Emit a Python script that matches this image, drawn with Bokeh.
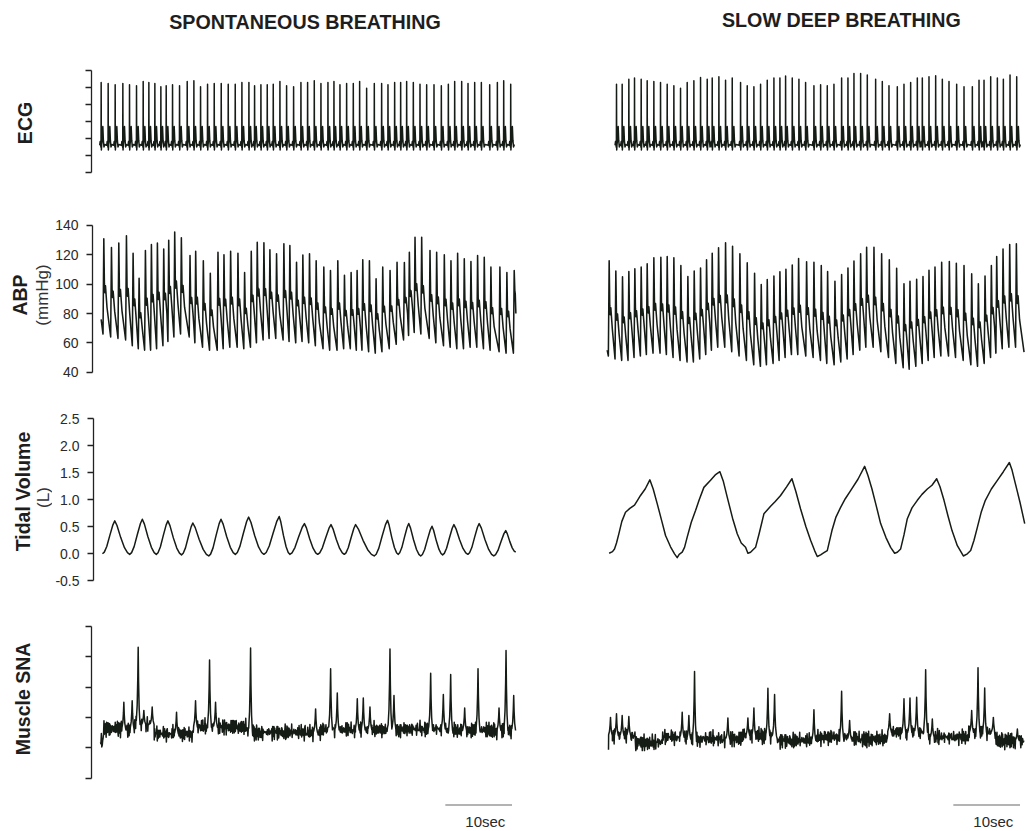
import numpy as np
from bokeh.plotting import figure
from bokeh.layouts import column, row
from bokeh.models import Range1d, FixedTicker, PrintfTickFormatter
from bokeh.embed import file_html
from bokeh.resources import INLINE
from bokeh.core.properties import value

FONT = "Liberation Sans"
INK = "#151b15"
TXT = "#1e1e1e"

# ------------------------------------------------------------------ data
titles = ["SPONTANEOUS BREATHING", "SLOW DEEP BREATHING"]
row_labels = ["ECG", "ABP", "Tidal Volume", "Muscle SNA"]
row_units = ["", "(mmHg)", "(L)", ""]

ecg_ticks = [0, 1, 2, 3, 4, 5, 6]
abp_ticks = [40, 60, 80, 100, 120, 140]
tv_ticks = [-0.5, 0.0, 0.5, 1.0, 1.5, 2.0, 2.5]
sna_ticks = [0, 1, 2, 3, 4, 5]

scale_bar_start = 51.7   # s
scale_bar_len = 10.0     # s
scale_label = "10sec"

# ECG: R-peak times (s) and R-peak tops (arbitrary units)
ecg_spont_t = [0.1, 1.15, 2.2, 3.35, 4.35, 5.4, 6.4, 7.25, 8.15, 9.05, 9.85, 10.8, 11.85, 13.0,
               14.0, 15.0, 16.05, 17.05, 18.1, 19.15, 20.2, 21.2, 22.25, 23.1, 24.05, 25.0, 25.9,
               26.9, 27.9, 28.95, 30.05, 31.05, 32.05, 33.05, 34.1, 35.0, 35.9, 36.9, 37.9, 38.85,
               39.9, 41.05, 42.15, 43.1, 44.1, 45.0, 45.9, 46.9, 47.9, 48.9, 50.0, 51.1, 52.15,
               53.1, 54.15, 55.1, 56.1, 57.1, 58.35, 59.5, 60.45, 61.5]
ecg_spont_r = [5.31, 5.25, 5.18, 5.25, 5.18, 5.12, 5.37, 5.31, 5.25, 5.06, 5.12, 5.18, 5.12, 5.37,
               5.41, 5.06, 5.21, 5.25, 5.25, 5.21, 5.21, 5.31, 5.31, 5.12, 5.18, 5.18, 5.21, 5.37,
               5.12, 5.06, 5.31, 5.31, 5.41, 5.25, 5.31, 5.37, 5.18, 5.25, 5.25, 5.37, 4.98, 5.25,
               5.25, 5.18, 5.31, 5.31, 5.37, 5.31, 5.21, 5.18, 5.18, 5.12, 5.21, 5.37, 5.37, 5.25,
               5.31, 5.31, 5.18, 5.31, 5.41, 5.21]
ecg_slow_t = [1.2, 2.05, 3.05, 3.9, 4.9, 5.8, 6.8, 7.8, 8.8, 9.8, 10.8, 11.8, 12.8, 13.8, 14.8,
              15.55, 16.55, 17.55, 18.55, 19.8, 20.8, 21.8, 22.8, 23.8, 24.8, 25.7, 26.55, 27.55,
              28.55, 29.55, 30.8, 31.8, 32.8, 33.8, 34.95, 35.9, 36.8, 37.8, 38.8, 40.05, 41.05,
              42.05, 43.3, 44.3, 45.3, 46.3, 47.05, 48.05, 49.05, 50.05, 51.05, 52.2, 53.3, 54.55,
              55.55, 56.3, 57.3, 58.3, 59.2, 60.2, 61.2]
ecg_slow_r = [5.21, 5.21, 5.51, 5.57, 5.51, 5.41, 5.37, 5.31, 5.21, 5.12, 4.98, 5.31, 5.41, 5.61,
              5.51, 5.57, 5.65, 5.45, 5.57, 5.31, 5.12, 5.06, 5.21, 5.45, 5.57, 5.57, 5.69, 5.57,
              5.51, 5.31, 5.12, 5.18, 5.12, 5.21, 5.57, 5.57, 5.84, 5.84, 5.76, 5.51, 5.37, 5.12,
              5.06, 5.21, 5.31, 5.57, 5.57, 5.65, 5.71, 5.51, 5.37, 5.21, 5.06, 5.06, 5.45, 5.45,
              5.65, 5.57, 5.51, 5.76, 5.65]
ecg_baseline = 1.62
# one ECG complex (offsets from R in s, height above baseline)
ecg_pre_dt = [-0.22, -0.15, -0.08, -0.02]
ecg_pre_v = [0.0, 0.22, 0.0, -0.12]
ecg_post_dt = [0.03, 0.08, 0.17, 0.25, 0.33, 0.42, 0.55]
ecg_post_v = [-0.28, 0.05, 0.35, 1.1, 0.3, -0.1, 0.04]

# ABP: systolic peak times (s), systolic and diastolic pressures (mmHg)
abp_spont_t = [0.35, 1.5, 2.6, 3.75, 4.75, 5.65, 6.6, 7.5, 8.4, 9.35, 10.1, 11.0, 12.0, 13.3,
               14.15, 15.3, 16.35, 17.5, 18.4, 19.4, 20.5, 21.5, 22.5, 23.4, 24.4, 25.3, 26.3,
               27.4, 28.3, 29.3, 30.25, 31.25, 32.25, 33.4, 34.4, 35.5, 36.5, 37.5, 38.4, 39.25,
               40.25, 41.25, 42.25, 43.35, 44.4, 45.5, 46.25, 47.1, 48.1, 49.35, 50.35, 51.5,
               52.5, 53.5, 54.5, 55.5, 56.5, 57.5, 58.5, 59.85, 60.9, 62.0]
abp_spont_sys = [131, 125, 128, 133, 121, 104, 123, 127, 128, 124, 130, 135.5, 131.6, 119.5,
                 122.5, 116, 107.5, 121.8, 120, 122.5, 121, 108, 122.5, 128.6, 128.2, 123.4,
                 120.7, 127.5, 126.4, 115, 119.8, 120.7, 116, 111.6, 109.3, 116, 106, 108, 109.3,
                 116.6, 116, 103.6, 111.6, 109.3, 115, 114.8, 121.8, 132, 132, 123, 121.8, 120,
                 116, 121, 117.3, 115.5, 119.5, 118.4, 111.6, 111.6, 108, 109.3]
abp_spont_dia = [66, 64, 63, 62, 58, 56, 55, 55, 56, 58, 61, 64, 66, 64, 60, 57, 55, 55, 56, 57,
                 57, 56, 57, 60, 62, 63, 63, 62, 61, 60, 61, 60, 58, 56, 55, 55, 56, 56, 55, 55,
                 54, 53, 54, 56, 59, 62, 65, 67, 66, 63, 60, 58, 57, 56, 56, 57, 57, 56, 55, 54,
                 53, 53]
abp_spont_start = (-0.05, 76.0)
abp_spont_end = (62.25, 80.0)
abp_slow_t = [0.1, 1.1, 2.1, 3.05, 3.95, 4.9, 5.8, 6.8, 7.85, 8.8, 9.8, 10.85, 11.9, 12.85, 13.8,
              14.7, 15.55, 16.5, 17.55, 18.6, 19.7, 20.8, 21.9, 22.9, 23.8, 24.8, 25.7, 26.6,
              27.55, 28.5, 29.7, 30.8, 31.9, 32.85, 33.95, 34.95, 35.9, 36.8, 37.8, 38.7, 39.8,
              40.95, 42.1, 43.2, 44.3, 45.2, 46.2, 47.15, 48.05, 48.95, 49.95, 51.1, 52.15, 53.3,
              54.45, 55.45, 56.45, 57.4, 58.2, 59.15, 60.15, 61.15]
abp_slow_sys = [116, 109, 105, 108.6, 110.5, 111.6, 113.9, 118, 118.4, 118.9, 118, 112.7, 105.2,
                108.9, 111, 116.6, 121, 124.8, 128.2, 125.9, 120.7, 114.5, 107.5, 99.8, 103.2,
                105.5, 108.4, 110.2, 113, 117.5, 115.2, 115, 112.7, 108.6, 102, 106.6, 111, 115.7,
                120.7, 125.2, 125.2, 120.7, 116.6, 110.9, 100.2, 102, 103.4, 105.2, 109.5, 111.6,
                115, 115.5, 114.3, 112.7, 107, 100.2, 105.5, 112.7, 118.9, 124, 127, 127.5]
abp_slow_dia = [51, 49, 48, 48, 50, 51, 52, 53, 53, 52, 50, 48, 47, 47, 49, 52, 55, 57, 57, 54,
                51, 48, 45, 44, 45, 46, 48, 50, 52, 52, 51, 50, 48, 46, 45, 47, 49, 52, 55, 57,
                57, 54, 50, 46, 43, 42, 44, 46, 48, 50, 51, 51, 50, 48, 45, 44, 46, 50, 53, 56,
                57, 57]
abp_slow_start = (-0.2, 55.0)
abp_slow_end = (62.3, 53.6)
# pressure pulse after the systolic peak (s after peak, fraction of pulse above next foot)
abp_foot_dt = -0.12
abp_decay_dt = [0.09, 0.16, 0.25, 0.48]
abp_decay_f = [0.54, 0.45, 0.52, 0.30]

# Tidal volume (L)
tv_spont_peak_t = [1.85, 6.0, 9.85, 13.6, 17.84, 22.0, 26.6, 30.4, 34.4, 38.1, 42.9, 46.1, 49.6,
                   52.9, 56.7, 60.7]
tv_spont_peak_v = [0.61, 0.64, 0.61, 0.57, 0.64, 0.68, 0.69, 0.56, 0.54, 0.54, 0.62, 0.56, 0.51,
                   0.54, 0.56, 0.43]
tv_spont_trough_t = [0.0, 4.1, 8.1, 11.9, 16.0, 20.0, 24.3, 28.2, 32.4, 36.4, 40.9, 44.5, 47.9,
                     51.2, 55.0, 58.9, 62.2]
tv_spont_trough_v = [0.0, -0.01, -0.01, -0.02, -0.04, -0.01, -0.01, -0.01, -0.01, -0.01, -0.04,
                     -0.01, -0.04, -0.02, -0.01, -0.04, 0.03]
tv_rise_f = [0.15, 0.35, 0.6, 0.85]
tv_rise_v = [0.05, 0.22, 0.56, 0.88]
tv_fall_f = [0.15, 0.4, 0.65, 0.85]
tv_fall_v = [0.86, 0.5, 0.2, 0.05]

tv_slow_t = [0.1, 0.6, 0.9, 1.2, 1.55, 2.0, 2.55, 3.2, 3.9, 4.3, 4.8, 5.5, 6.2, 6.7, 7.3, 8.0,
             8.55, 9.3, 9.9, 10.3, 10.6, 11.05, 11.4, 11.8, 12.4, 13.05, 13.6, 14.3, 15.3, 16.0,
             16.7, 17.2, 17.8, 18.6, 19.3, 19.9, 20.55, 20.9, 21.3, 22.05, 22.6, 23.3, 24.3, 25.0,
             25.8, 26.7, 27.5, 28.1, 28.8, 29.6, 30.3, 30.9, 31.3, 31.8, 32.3, 32.8, 33.5, 34.1,
             34.8, 35.5, 36.3, 37.4, 38.4, 38.9, 39.5, 40.2, 40.8, 41.6, 42.3, 42.9, 43.3, 43.8,
             44.3, 44.8, 45.5, 46.3, 47.0, 47.8, 48.5, 49.2, 49.7, 50.3, 50.9, 51.5, 52.3, 53.2,
             53.8, 54.3, 54.8, 55.3, 55.9, 56.5, 57.4, 58.3, 59.2, 60.1, 60.5, 61.0, 61.7, 62.4]
tv_slow_v = [0.01, 0.04, 0.09, 0.2, 0.37, 0.6, 0.77, 0.84, 0.9, 0.98, 1.08, 1.2, 1.37, 1.2, 0.93,
             0.6, 0.34, 0.13, 0.0, -0.07, -0.01, 0.03, 0.12, 0.31, 0.58, 0.8, 1.0, 1.23, 1.36,
             1.46, 1.52, 1.35, 1.05, 0.66, 0.37, 0.2, 0.12, 0.01, 0.03, 0.12, 0.38, 0.74, 0.88,
             0.97, 1.08, 1.24, 1.39, 1.15, 0.83, 0.5, 0.25, 0.06, -0.05, -0.02, 0.02, 0.06, 0.43,
             0.68, 0.86, 1.02, 1.17, 1.38, 1.62, 1.45, 1.2, 0.86, 0.56, 0.3, 0.12, 0.01, 0.03, 0.09,
             0.35, 0.65, 0.85, 0.99, 1.1, 1.2, 1.27, 1.39, 1.24, 0.99, 0.7, 0.43, 0.15, -0.04, 0.0,
             0.06, 0.25, 0.49, 0.78, 0.99, 1.2, 1.36, 1.52, 1.69, 1.55, 1.3, 0.95, 0.56]

# Muscle SNA (arbitrary units): baseline level by segment, bursts (time, top)
sna_spont_base_end = [0.4, 5, 8, 14, 22, 33, 43, 52, 63]
sna_spont_base_lvl = [1.2, 1.62, 1.77, 1.46, 1.68, 1.51, 1.59, 1.62, 1.57]
sna_spont_burst_t = [3.5, 4.75, 5.65, 6.5, 7.75, 11.4, 14.25, 16.35, 17.25, 22.5, 32.25, 34.5,
                     35.5, 38.5, 39.4, 40.4, 43.4, 44.0, 49.5, 51.4, 52.5, 54.6, 56.6, 59.75,
                     60.8, 61.95]
sna_spont_burst_top = [2.5, 2.55, 4.31, 2.23, 2.34, 2.17, 2.55, 3.89, 2.5, 4.28, 2.28, 3.6, 2.8,
                       2.61, 2.64, 2.34, 4.25, 2.72, 3.45, 2.75, 3.41, 2.31, 3.6, 2.31, 4.2, 2.72]
sna_spont_span = (0.0, 62.25)
sna_slow_base_end = [0.3, 4, 8, 12, 20, 25, 31, 36, 42, 48, 54, 58, 63]
sna_slow_base_lvl = [0.95, 1.40, 1.18, 1.35, 1.29, 1.40, 1.24, 1.35, 1.29, 1.51, 1.35, 1.51, 1.24]
sna_slow_burst_t = [0.3, 1.2, 2.05, 3.05, 11.05, 12.05, 12.9, 17.9, 20.9, 21.8, 23.9, 24.9, 30.8,
                    34.95, 36.15, 42.15, 44.3, 45.2, 46.2, 47.55, 48.55, 54.45, 55.4, 56.4, 57.7,
                    61.3]
sna_slow_burst_top = [2.0, 2.12, 2.06, 2.03, 2.17, 2.06, 3.51, 1.98, 1.98, 2.31, 2.96, 2.75, 2.25,
                      2.86, 1.9, 2.12, 2.61, 2.64, 2.66, 3.57, 1.95, 2.23, 3.63, 2.97, 2.0, 1.62]
sna_slow_span = (0.0, 62.3)
sna_step = 0.065
sna_noise_amp = 0.34
sna_jitter_a = [0.3, -0.6, 0.9, -0.2, -0.8, 0.5, 0.1, -0.4, 0.7, -0.9, 0.2, 0.6, -0.3, -0.7, 0.8,
                0.0, -0.5, 0.4, -0.1, 0.9, -0.6, 0.3, -0.8, 0.6, -0.2, 0.1, -0.9, 0.7, 0.4, -0.4,
                0.2, -0.7, 0.5, -0.1, 0.8, -0.5, 0.0]
sna_jitter_b = [-0.4, 0.2, 0.7, -0.8, 0.1, -0.3, 0.6, -0.6, 0.9, -0.1, -0.7, 0.4, 0.3, -0.9, 0.5,
                0.0, -0.2, 0.8, -0.5, 0.2, -0.6, 0.7, -0.3, 0.1, 0.6, -0.8, 0.4, -0.1, -0.4, 0.9,
                -0.7, 0.3, 0.0, -0.5, 0.5, -0.2, 0.8, -0.9, 0.2, 0.6, -0.3, -0.6, 0.7, 0.1, -0.4,
                0.4, -0.8, 0.3, 0.9, -0.1, -0.5, 0.2, -0.7]
sna_burst_dt = [-0.28, -0.15, -0.06, 0.0, 0.06, 0.15, 0.28]
sna_burst_f = [0.05, 0.25, 0.6, 1.0, 0.55, 0.2, 0.0]


# ------------------------------------------------------------------ trace builders
def ecg_trace(rt, rtop):
    ts, vs = [], []
    for i, (t, top) in enumerate(zip(rt, rtop)):
        nxt = rt[i + 1] + ecg_pre_dt[0] if i + 1 < len(rt) else 1e9
        for dt, v in zip(ecg_pre_dt, ecg_pre_v):
            if not ts or t + dt > ts[-1]:
                ts.append(t + dt); vs.append(ecg_baseline + v)
        ts.append(t); vs.append(top)
        for dt, v in zip(ecg_post_dt, ecg_post_v):
            if t + dt < nxt - 0.02:
                ts.append(t + dt); vs.append(ecg_baseline + v)
    return ts, vs


def abp_trace(tp, sys, dia, start, end):
    ts, vs = [start[0]], [start[1]]
    n = len(tp)
    for i in range(n):
        ts.append(tp[i] + abp_foot_dt); vs.append(dia[i])
        ts.append(tp[i]); vs.append(sys[i])
        dn = dia[i + 1] if i + 1 < n else end[1]
        for dt, f in zip(abp_decay_dt, abp_decay_f):
            if i + 1 == n and tp[i] + dt >= end[0]:
                break
            ts.append(tp[i] + dt); vs.append(dn + f * (sys[i] - dn))
    ts.append(end[0]); vs.append(end[1])
    return ts, vs


def tv_spont_trace():
    ts, vs = [], []
    for i in range(len(tv_spont_peak_t)):
        t0, v0 = tv_spont_trough_t[i], tv_spont_trough_v[i]
        t1, v1 = tv_spont_peak_t[i], tv_spont_peak_v[i]
        t2, v2 = tv_spont_trough_t[i + 1], tv_spont_trough_v[i + 1]
        ts.append(t0); vs.append(v0)
        for f, g in zip(tv_rise_f, tv_rise_v):
            ts.append(t0 + f * (t1 - t0)); vs.append(v0 + g * (v1 - v0))
        ts.append(t1); vs.append(v1)
        for f, g in zip(tv_fall_f, tv_fall_v):
            ts.append(t1 + f * (t2 - t1)); vs.append(v2 + g * (v1 - v2))
    ts.append(tv_spont_trough_t[-1]); vs.append(tv_spont_trough_v[-1])
    return ts, vs


def sna_trace(base_end, base_lvl, bt, btop, span):
    ja = np.array(sna_jitter_a); jb = np.array(sna_jitter_b)
    be = np.array(base_end); bl = np.array(base_lvl)
    tt = np.arange(span[0], span[1], sna_step)
    k = np.arange(len(tt))
    lvl = bl[np.minimum(np.searchsorted(be, tt, side="right"), len(bl) - 1)]
    noise = (ja[k % len(ja)] + jb[k % len(jb)]) * 0.5 * sna_noise_amp
    pts = []
    btn = np.array(bt)
    for t, l, nz in zip(tt, lvl, noise):
        if np.min(np.abs(btn - t)) > sna_burst_dt[-1]:
            pts.append((t, l + nz))
    for t, top in zip(bt, btop):
        l = bl[min(np.searchsorted(be, t, side="right"), len(bl) - 1)]
        for dt, f in zip(sna_burst_dt, sna_burst_f):
            pts.append((t + dt, l + f * (top - l)))
    pts.sort()
    return [p[0] for p in pts], [p[1] for p in pts]


# ------------------------------------------------------------------ layout geometry
PX_PER_S = 6.67
LAB_W = 52
AX_BORDER = 39
LEFT_W = 600 - LAB_W
RIGHT_W = 430
HEADER_H = 50
row_h = [148, 197, 208, 228]
left_x = Range1d(-9 / PX_PER_S, -9 / PX_PER_S + (LEFT_W - AX_BORDER) / PX_PER_S)
right_x = Range1d(-8 / PX_PER_S, -8 / PX_PER_S + RIGHT_W / PX_PER_S)
y_ranges = [(-1.512, 7.194), (24.1, 158.4), (-0.920, 2.931), (-1.753, 5.747)]
row_top_px = [50, 198, 395, 603]


def blank(width, height, xr, yr, border_left=0):
    p = figure(width=width, height=height, x_range=xr, y_range=yr,
               toolbar_location=None, output_backend="svg",
               x_axis_location=None, y_axis_location=("left" if border_left else None),
               min_border=0, min_border_left=border_left)
    p.outline_line_color = None
    p.background_fill_color = "white"
    p.border_fill_color = "white"
    p.grid.grid_line_color = None
    return p


def style_axis(p, ticks, fmt=None, blank_labels=False):
    ax = p.yaxis[0]
    ax.ticker = FixedTicker(ticks=ticks)
    ax.bounds = (ticks[0], ticks[-1])
    ax.axis_line_color = "#222222"
    ax.axis_line_width = 1.3
    ax.major_tick_line_color = "#222222"
    ax.major_tick_line_width = 1.3
    ax.major_tick_out = 6
    ax.major_tick_in = 0
    ax.minor_tick_out = 0
    ax.minor_tick_in = 0
    ax.major_label_standoff = 8
    ax.major_label_text_font = FONT
    ax.major_label_text_font_size = "14px"
    ax.major_label_text_color = "#2a2a2a"
    if fmt:
        ax.formatter = PrintfTickFormatter(format=fmt)
    if blank_labels:
        ax.major_label_overrides = {float(t): "" for t in ticks}


# header with titles
header = blank(1030, HEADER_H, Range1d(0, 1030), Range1d(-HEADER_H, 0))
header.text(x=[304.5, 841], y=[-21.5, -19.5], text=titles, text_font=value(FONT),
            text_font_style="bold", text_font_size="19.7px", text_align="center",
            text_baseline="middle", text_color=TXT)

traces_left = [ecg_trace(ecg_spont_t, ecg_spont_r),
               abp_trace(abp_spont_t, abp_spont_sys, abp_spont_dia, abp_spont_start, abp_spont_end),
               tv_spont_trace(),
               sna_trace(sna_spont_base_end, sna_spont_base_lvl, sna_spont_burst_t,
                         sna_spont_burst_top, sna_spont_span)]
traces_right = [ecg_trace(ecg_slow_t, ecg_slow_r),
                abp_trace(abp_slow_t, abp_slow_sys, abp_slow_dia, abp_slow_start, abp_slow_end),
                (tv_slow_t, tv_slow_v),
                sna_trace(sna_slow_base_end, sna_slow_base_lvl, sna_slow_burst_t,
                          sna_slow_burst_top, sna_slow_span)]
tick_sets = [ecg_ticks, abp_ticks, tv_ticks, sna_ticks]
fmts = [None, "%d", "%.1f", None]
blanks = [True, False, False, True]
line_w = [1.5, 1.55, 1.5, 1.5]

# label placement inside the label strip (x px, y px from top of canvas)
label_pos = [(24.5, 122.5), (19, 294.5), (22.5, 491), (22.5, 698.5)]
unit_pos = [None, (41.5, 294.5), (42.5, 497), None]

rows = [header]
for r in range(4):
    h = row_h[r]
    top = row_top_px[r]
    lab = blank(LAB_W, h, Range1d(0, LAB_W), Range1d(-(top + h), -top))
    lx, ly = label_pos[r]
    lab.text(x=[lx], y=[-ly], text=[row_labels[r]], angle=np.pi / 2, text_font=value(FONT),
             text_font_style="bold", text_font_size="19.5px", text_align="center",
             text_baseline="middle", text_color=TXT)
    if unit_pos[r]:
        ux, uy = unit_pos[r]
        lab.text(x=[ux], y=[-uy], text=[row_units[r]], angle=np.pi / 2, text_font=value(FONT),
                 text_font_size="17px", text_align="center", text_baseline="middle",
                 text_color="#333333")

    yr = y_ranges[r]
    lp = blank(LEFT_W, h, left_x, Range1d(*yr), border_left=AX_BORDER)
    style_axis(lp, tick_sets[r], fmts[r], blanks[r])
    t, v = traces_left[r]
    lp.line(t, v, line_color=INK, line_width=line_w[r], line_join="round")

    rp = blank(RIGHT_W, h, right_x, Range1d(*yr))
    t, v = traces_right[r]
    rp.line(t, v, line_color=INK, line_width=line_w[r], line_join="round")

    if r == 3:
        for p in (lp, rp):
            p.line([scale_bar_start, scale_bar_start + scale_bar_len], [-0.88, -0.88],
                   line_color="#9a9a9a", line_width=1.6)
            p.text(x=[scale_bar_start + scale_bar_len / 2 + 1.0], y=[-1.41], text=[scale_label],
                   text_font=value(FONT), text_font_size="15px", text_align="center",
                   text_baseline="middle", text_color="#2a2a2a")
    rows.append(row(lab, lp, rp, spacing=0))

layout = column(*rows, spacing=0)
open("out.html", "w").write(file_html(layout, INLINE))
